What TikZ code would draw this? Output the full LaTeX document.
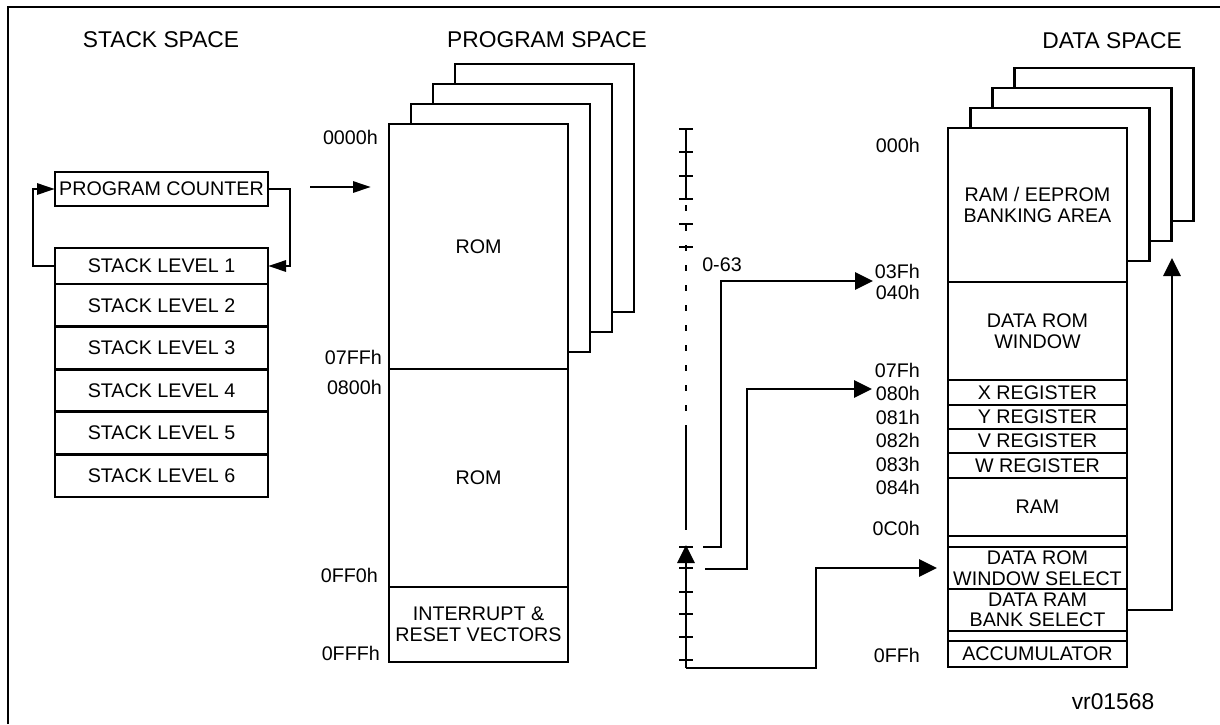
\documentclass[tikz,border=0pt]{standalone}
\usepackage{fontspec}
\setmainfont{Liberation Sans}
\usetikzlibrary{arrows.meta, positioning}

\begin{document}
\begin{tikzpicture}[
    x=1pt, y=-1pt,
    every node/.style={font=\fontsize{19.7}{20.5}\selectfont},
    title/.style={font=\fontsize{22.8}{25}\selectfont},
    line/.style={line width=2.9pt},
    cell/.style={rectangle, draw, line width=2.9pt, inner sep=0pt, outer sep=0pt, align=center, minimum width=179},
    stackcell/.style={cell, minimum width=213},
    addr/.style={anchor=east, inner sep=0pt},
    arrow/.style={-{Triangle[length=18pt, width=11pt]}, line width=2.9pt},
    bigarrow/.style={-{Triangle[length=18pt, width=17pt]}, line width=2.9pt},
]
\useasboundingbox (0,0) rectangle (1220,724);

% frame
\draw[line] (8,724) -- (8,7) -- (1220,7);

% stack space
\node[title] (stacktitle) at (161,40) {STACK SPACE};
\node[stackcell, minimum height=34] (pc) at (161.5,189) {PROGRAM COUNTER};
\node[stackcell, minimum height=36] (sl1) at (161.5,266) {STACK LEVEL 1};
\foreach \i [remember=\i as \j (initially 1)] in {2,...,6}
    \node[stackcell, minimum height=42.6, below=0pt of sl\j] (sl\i) {STACK LEVEL \i};

\draw[arrow] (sl1.west) -- ++(-22,0) |- (pc.west);
\draw[arrow] (pc.east) -- ++(22,0) |- (sl1.east);

% program space
\node[title] (progtitle) at (547,40) {PROGRAM SPACE};
\foreach \k in {3,2,1}
    \node[cell, fill=white, minimum height=248, anchor=north west] (pback\k) at (389+22*\k,124-20*\k) {};
\node[cell, fill=white, minimum height=245, anchor=north west] (rom1) at (389,124) {ROM};
\node[cell, minimum height=218, below=0pt of rom1] (rom2) {ROM};
\node[cell, minimum height=75, below=0pt of rom2] (vectors) {INTERRUPT \&\\RESET VECTORS};

\node[addr] at (378,137) {0000h};
\node[addr] at (382,357) {07FFh};
\node[addr] at (382,387) {0800h};
\node[addr] at (378,575) {0FF0h};
\node[addr] at (380,653) {0FFFh};

\coordinate (pcout) at (310,187);
\draw[arrow] (pcout) -- ([xshift=-18]rom1.west |- pcout);

% data space
\node[title] (datatitle) at (1112,41) {DATA SPACE};
\foreach \k in {3,2,1}
    \node[cell, fill=white, minimum height=153, anchor=north west] (dback\k) at (948+22.3*\k,128-20*\k) {};
\node[cell, fill=white, minimum height=154, anchor=north west] (bank) at (948,128) {RAM / EEPROM\\BANKING AREA};
\node[cell, minimum height=98, below=0pt of bank] (romwin) {DATA ROM\\WINDOW};
\node[cell, minimum height=25, below=0pt of romwin] (xreg) {X REGISTER};
\node[cell, minimum height=24, below=0pt of xreg] (yreg) {Y REGISTER};
\node[cell, minimum height=24, below=0pt of yreg] (vreg) {V REGISTER};
\node[cell, minimum height=25, below=0pt of vreg] (wreg) {W REGISTER};
\node[cell, minimum height=58, below=0pt of wreg] (ram) {RAM};
\node[cell, minimum height=11, below=0pt of ram] (gapa) {};
\node[cell, minimum height=42, below=0pt of gapa] (romsel) {DATA ROM\\WINDOW SELECT};
\node[cell, minimum height=42, below=0pt of romsel] (ramsel) {DATA RAM\\BANK SELECT};
\node[cell, minimum height=10, below=0pt of ramsel] (gapb) {};
\node[cell, minimum height=26, below=0pt of gapb] (acc) {ACCUMULATOR};

\foreach \t/\y in {000h/145, 03Fh/271, 040h/292, 07Fh/370, 080h/393, 081h/417,
                   082h/440, 083h/464, 084h/487, 0C0h/528, 0FFh/655}
    \node[addr] at (920,\y) {\t};

% bank pointer scale
\draw[line] (686,129) -- (686,199);
\draw[line, dash pattern=on 6pt off 14pt] (686,205) -- (686,425);
\draw[line] (686,425) -- (686,530);
\foreach \y in {129,152,176,199,224,247,547,568,592,614,637,660}
    \draw[line] (679,\y) -- (693,\y);
\coordinate (scbot) at (686,668);
\coordinate (sctip) at (686,545);
\draw[bigarrow] (scbot) -- (sctip);
\node (range) at (722,265) {0-63};

\coordinate (ptra) at (703,547);
\coordinate (ptrb) at (705,569);
\coordinate (tipa) at (873,281);
\coordinate (tipb) at (872,389);
\coordinate (banktip) at (1172,258);
\draw[bigarrow] (ptra) -- ++(18,0) |- (tipa);
\draw[bigarrow] (ptrb) -- ++(42,0) |- (tipb);
\draw[bigarrow] (scbot) -- ++(130,0) |- ([xshift=-11]romsel.west);
\draw[bigarrow] (ramsel.east) -| (banktip);

\node[title] (figid) at (1113,702) {vr01568};
\end{tikzpicture}
\end{document}
